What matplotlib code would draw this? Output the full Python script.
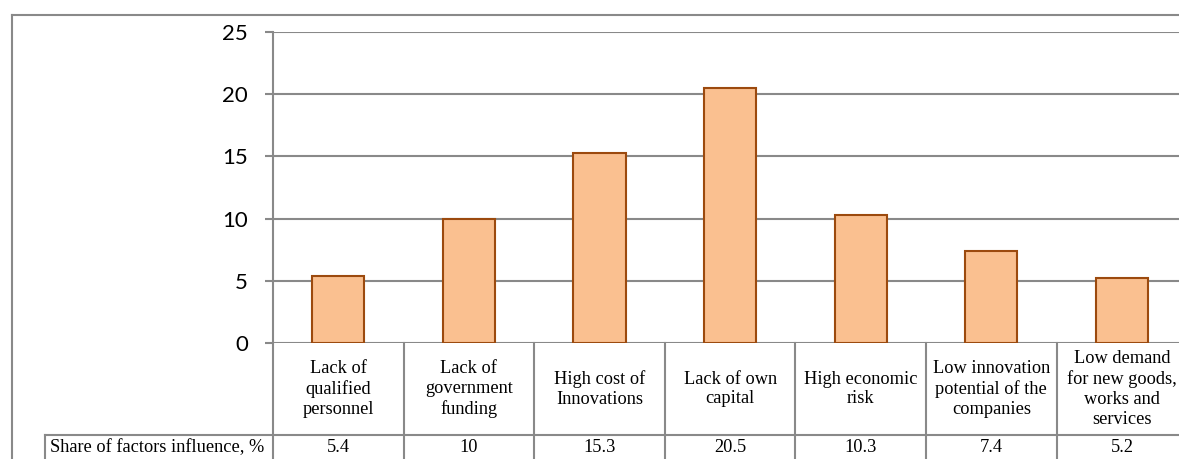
import matplotlib.pyplot as plt
from matplotlib.lines import Line2D

# data
categories = [
    "Lack of\nqualified\npersonnel",
    "Lack of\ngovernment\nfunding",
    "High cost of\nInnovations",
    "Lack of own\ncapital",
    "High economic\nrisk",
    "Low innovation\npotential of the\ncompanies",
    "Low demand\nfor new goods,\nworks and\nservices",
]
values = [5.4, 10, 15.3, 20.5, 10.3, 7.4, 5.2]
value_labels = ["5.4", "10", "15.3", "20.5", "10.3", "7.4", "5.2"]
row_label = "Share of factors influence, %"
y_ticks = [0, 5, 10, 15, 20, 25]

GRID = "#898989"
BAR_FACE = "#FAC090"
BAR_EDGE = "#9C4A0E"
SERIF = ["Liberation Serif", "DejaVu Serif"]
TFS = 13.2

W, H = 1179, 459
fig = plt.figure(figsize=(W / 100, H / 100), dpi=100, facecolor="white")

# plot area in pixels: left 273, top 32, bottom 343, column width ~130.6
col_w = 130.6
left, top, bottom = 273, 32, 343
ax = fig.add_axes([left / W, (H - bottom) / H,
                   len(categories) * col_w / W, (bottom - top) / H])

x = list(range(len(categories)))
ax.bar(x, values, width=0.4, color=BAR_FACE, edgecolor=BAR_EDGE,
       linewidth=1.5, zorder=3)

ax.set_xlim(-0.5, len(categories) - 0.5)
ax.set_ylim(0, 25)
ax.set_yticks(y_ticks)
ax.set_yticklabels([str(t) for t in y_ticks], fontsize=16, family=["Lato", "DejaVu Sans"])
ax.tick_params(axis="y", length=6, width=1.5, color=GRID, pad=12)
ax.set_xticks([])
ax.yaxis.grid(True, color=GRID, linewidth=1.5, zorder=0)
ax.set_axisbelow(True)
for side in ["top", "right", "bottom"]:
    ax.spines[side].set_visible(False)
ax.spines["left"].set_color(GRID)
ax.spines["left"].set_linewidth(1.5)

# data table below the plot (axes fraction units for y)
ph = bottom - top
hdr_bot = -(435 - bottom) / ph
tbl_bot = -(H - bottom + 5) / ph
trans = ax.get_xaxis_transform()

# vertical separators
for i in range(len(categories) + 1):
    ax.add_line(Line2D([i - 0.5, i - 0.5], [0, tbl_bot], transform=trans,
                       color=GRID, lw=1.5, clip_on=False))
# horizontal line under header row, extended to the row label cell
lbl_left = -0.5 - (left - 45) / col_w
ax.add_line(Line2D([lbl_left, len(categories) - 0.5], [hdr_bot, hdr_bot],
                   transform=trans, color=GRID, lw=1.5, clip_on=False))
ax.add_line(Line2D([lbl_left, lbl_left], [hdr_bot, tbl_bot], transform=trans,
                   color=GRID, lw=1.5, clip_on=False))

for i, (cat, lab) in enumerate(zip(categories, value_labels)):
    ax.text(i, -(389 - bottom) / ph, cat, transform=trans, ha="center", va="center",
            fontsize=TFS, family=SERIF, linespacing=1.22)
    ax.text(i, -(448 - bottom) / ph, lab, transform=trans, ha="center",
            va="center", fontsize=TFS, family=SERIF)
ax.text(lbl_left + 0.035, -(448 - bottom) / ph, row_label, transform=trans,
        ha="left", va="center", fontsize=TFS, family=SERIF)

# outer chart frame (top and left edges visible)
fig.add_artist(Line2D([12 / W, 1.0], [(H - 15) / H] * 2, color=GRID, lw=1.5))
fig.add_artist(Line2D([12 / W] * 2, [0, (H - 15) / H], color=GRID, lw=1.5))

fig.savefig("out.png", dpi=100, facecolor="white")
